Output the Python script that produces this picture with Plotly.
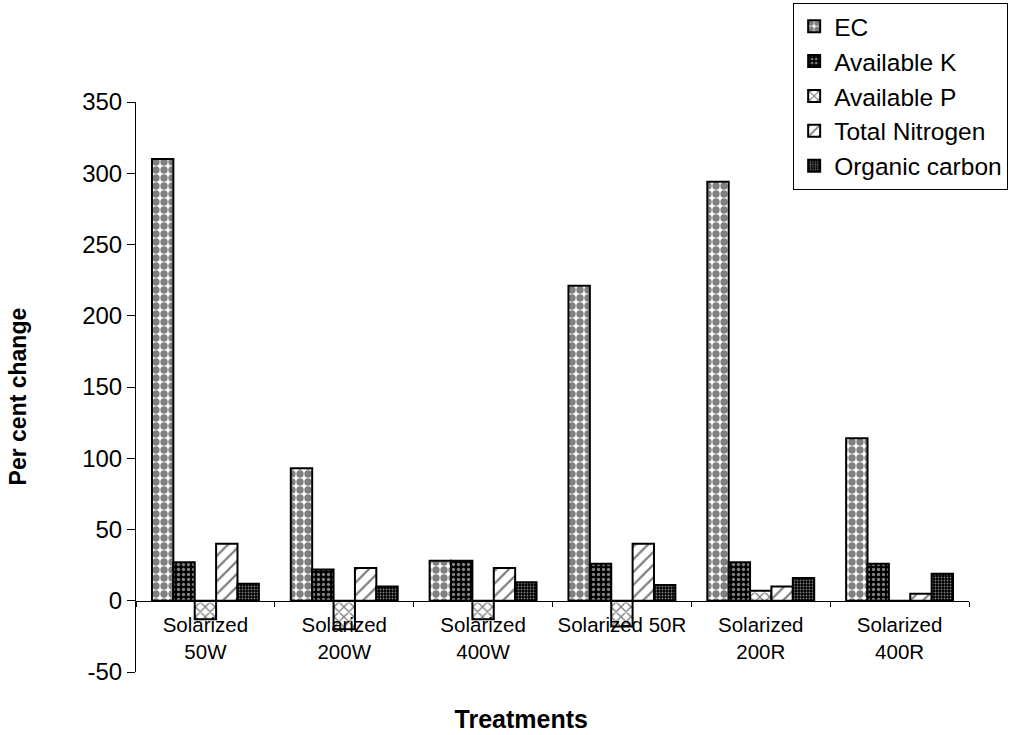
import plotly.graph_objects as go

categories = ["Solarized<br>50W", "Solarized<br>200W", "Solarized<br>400W",
              "Solarized 50R", "Solarized<br>200R", "Solarized<br>400R"]
ec = [310, 93, 28, 221, 294, 114]
avail_k = [27, 22, 28, 26, 27, 26]
avail_p = [-13, -20, -13, -18, 7, 0]
total_n = [40, 23, 23, 40, 10, 5]
org_c = [12, 10, 13, 11, 16, 19]
y_ticks = [-50, 0, 50, 100, 150, 200, 250, 300, 350]
y_tick_labels = ["-50", "0", "50", "100", "150", "200", "250", "300", "350"]

series = [
    ("EC", ec, dict(shape=".", bgcolor="white", fgcolor="black", size=8, solidity=0.65)),
    ("Available K", avail_k, dict(shape=".", bgcolor="black", fgcolor="white", size=5, solidity=0.35)),
    ("Available P", avail_p, dict(shape="x", bgcolor="white", fgcolor="black", size=7, solidity=0.35)),
    ("Total Nitrogen", total_n, dict(shape="/", bgcolor="white", fgcolor="black", size=9, solidity=0.25)),
    ("Organic carbon", org_c, dict(shape=".", bgcolor="black", fgcolor="white", size=3, solidity=0.3)),
]

fig = go.Figure()
for i, (name, vals, pat) in enumerate(series):
    fig.add_trace(go.Bar(
        x=categories, y=vals, name=name, legendgroup=f"g{i}",
        marker=dict(color="white", line=dict(color="black", width=2), pattern=pat),
    ))

FONT = "Liberation Sans, Arial, sans-serif"
fig.update_layout(
    width=1011, height=735,
    margin=dict(l=136, r=42, t=102, b=63, autoexpand=False),
    paper_bgcolor="white", plot_bgcolor="white",
    barmode="group", bargap=0.23, bargroupgap=0,
    font=dict(family=FONT, color="black"),
    showlegend=True,
    legend=dict(
        x=1.047, xanchor="right", y=1.174, yanchor="top",
        bordercolor="black", borderwidth=1, bgcolor="white",
        font=dict(size=24.5, family=FONT, color="black"),
        tracegroupgap=0, traceorder="normal",
    ),
    xaxis=dict(
        showline=True, linecolor="black", linewidth=1,
        anchor="free", position=0.125, automargin=False,
        ticks="outside", ticklen=5, tickcolor="black", tickson="boundaries",
        ticklabelstandoff=6, tickangle=0,
        tickfont=dict(size=20.5, family=FONT, color="black"),
        showgrid=False, zeroline=False,
        title=dict(text="<b>Treatments</b>" + "&nbsp;" * 9,
                   font=dict(size=25, family=FONT, color="black"), standoff=48),
    ),
    yaxis=dict(
        range=[-50, 350], tickvals=y_ticks, ticktext=y_tick_labels, automargin=False,
        showline=True, linecolor="black", linewidth=1,
        ticks="outside", ticklen=8, tickcolor="black",
        tickfont=dict(size=24, family=FONT, color="black"),
        showgrid=False, zeroline=False,
        title=dict(text="<b>Per cent change</b>" + "&nbsp;" * 3,
                   font=dict(size=23, family=FONT, color="black"), standoff=49),
    ),
)

fig.write_html("out.html")
